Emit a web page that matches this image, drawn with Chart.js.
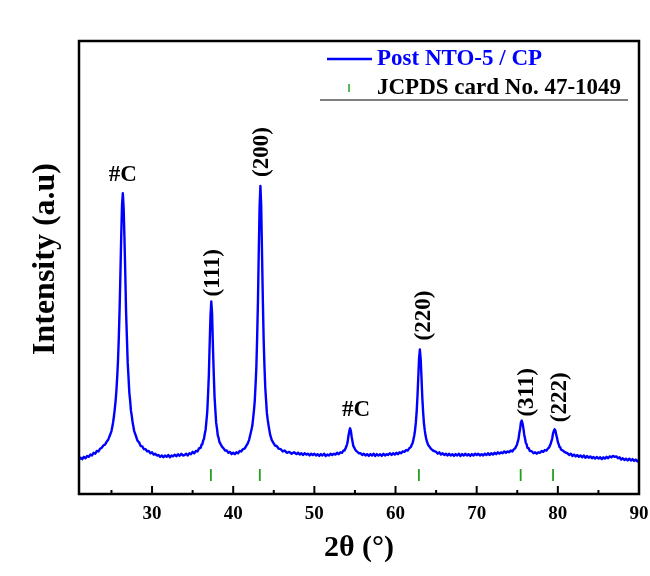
<!DOCTYPE html>
<html>
<head>
<meta charset="utf-8">
<title>XRD pattern</title>
<script src="https://cdn.jsdelivr.net/npm/chart.js@4.4.1/dist/chart.umd.min.js"></script>
<style>
    html, body { margin: 0; padding: 0; background: #fff; }
    canvas { display: block; }
</style>
</head>
<body>
<canvas id="xrd" width="650" height="576"></canvas>
<script>
var twoTheta = [
    21.0, 21.2, 21.4, 21.6, 21.8, 22.0, 22.2, 22.4, 22.6, 22.8,
    23.0, 23.2, 23.4, 23.6, 23.8, 24.0, 24.2, 24.4, 24.6, 24.8,
    25.0, 25.1, 25.2, 25.3, 25.4, 25.5, 25.6, 25.7, 25.8, 25.9,
    26.0, 26.1, 26.2, 26.3, 26.4, 26.5, 26.6, 26.7, 26.8, 26.9,
    27.0, 27.1, 27.2, 27.3, 27.4, 27.5, 27.6, 27.8, 28.0, 28.2,
    28.4, 28.6, 28.8, 29.0, 29.2, 29.4, 29.6, 29.8, 30.0, 30.2,
    30.4, 30.6, 30.8, 31.0, 31.2, 31.4, 31.6, 31.8, 32.0, 32.2,
    32.4, 32.6, 32.8, 33.0, 33.2, 33.4, 33.6, 33.8, 34.0, 34.2,
    34.4, 34.6, 34.8, 35.0, 35.2, 35.4, 35.6, 35.8, 36.0, 36.1,
    36.2, 36.3, 36.4, 36.5, 36.6, 36.7, 36.8, 36.9, 37.0, 37.1,
    37.2, 37.3, 37.4, 37.5, 37.6, 37.7, 37.8, 37.9, 38.0, 38.1,
    38.2, 38.3, 38.4, 38.6, 38.8, 39.0, 39.2, 39.4, 39.6, 39.8,
    40.0, 40.2, 40.4, 40.6, 40.8, 41.0, 41.2, 41.4, 41.6, 41.8,
    41.95, 42.15, 42.35, 42.45, 42.55, 42.65, 42.75, 42.85, 42.95, 43.05,
    43.15, 43.25, 43.35, 43.45, 43.55, 43.65, 43.75, 43.85, 43.95, 44.05,
    44.15, 44.25, 44.35, 44.55, 44.75, 44.95, 45.15, 45.35, 45.6, 45.85,
    46.1, 46.35, 46.6, 46.9, 47.2, 47.5, 47.8, 48.0, 48.2, 48.4,
    48.6, 48.8, 49.0, 49.2, 49.4, 49.6, 49.8, 50.0, 50.2, 50.4,
    50.6, 50.8, 51.0, 51.2, 51.4, 51.6, 51.8, 52.0, 52.2, 52.4,
    52.6, 52.8, 53.0, 53.2, 53.4, 53.6, 53.7, 53.8, 53.9, 54.0,
    54.1, 54.2, 54.3, 54.4, 54.5, 54.6, 54.7, 54.8, 54.9, 55.1,
    55.3, 55.5, 55.7, 55.9, 56.1, 56.3, 56.5, 56.7, 56.9, 57.1,
    57.3, 57.5, 57.7, 57.9, 58.1, 58.3, 58.5, 58.7, 58.9, 59.1,
    59.3, 59.5, 59.7, 59.9, 60.1, 60.3, 60.5, 60.7, 60.9, 61.1,
    61.3, 61.5, 61.7, 61.9, 62.0, 62.1, 62.2, 62.3, 62.4, 62.5,
    62.6, 62.7, 62.8, 62.9, 63.0, 63.1, 63.2, 63.3, 63.4, 63.5,
    63.6, 63.7, 63.8, 64.0, 64.2, 64.4, 64.7, 65.0, 65.2, 65.4,
    65.6, 65.8, 66.0, 66.2, 66.4, 66.6, 66.8, 67.0, 67.2, 67.4,
    67.6, 67.8, 68.0, 68.2, 68.4, 68.6, 68.8, 69.0, 69.2, 69.4,
    69.6, 69.8, 70.0, 70.2, 70.4, 70.6, 70.8, 71.0, 71.2, 71.4,
    71.6, 71.8, 72.0, 72.2, 72.4, 72.6, 72.8, 73.0, 73.2, 73.4,
    73.6, 73.8, 74.0, 74.2, 74.4, 74.55, 74.75, 74.85, 74.95, 75.05,
    75.15, 75.25, 75.35, 75.45, 75.55, 75.65, 75.75, 75.85, 75.95, 76.05,
    76.15, 76.25, 76.4, 76.55, 76.8, 77.0, 77.2, 77.4, 77.6, 77.8,
    78.0, 78.2, 78.4, 78.6, 78.8, 78.9, 79.0, 79.1, 79.2, 79.3,
    79.4, 79.5, 79.6, 79.7, 79.8, 79.9, 80.0, 80.1, 80.2, 80.3,
    80.4, 80.6, 80.8, 81.0, 81.2, 81.4, 81.6, 81.8, 82.0, 82.2,
    82.4, 82.6, 82.8, 83.0, 83.2, 83.4, 83.6, 83.8, 84.0, 84.2,
    84.4, 84.6, 84.8, 85.0, 85.2, 85.4, 85.6, 85.8, 86.0, 86.2,
    86.4, 86.6, 86.8, 87.0, 87.2, 87.4, 87.6, 87.8, 88.0, 88.2,
    88.4, 88.6, 88.8, 89.0, 89.2, 89.4, 89.6, 89.8, 90.0
];

var intensity = [
    7.6, 8.0, 7.7, 8.2, 7.9, 8.4, 8.2, 8.7, 8.5, 9.1,
    8.9, 9.5, 9.4, 10.0, 10.2, 10.7, 10.9, 11.5, 12.0, 12.9,
    13.9, 14.8, 15.8, 17.1, 18.6, 20.4, 22.6, 25.6, 29.2, 34.3,
    40.6, 48.4, 56.8, 63.7, 66.4, 63.2, 56.5, 48.9, 40.2, 34.6,
    29.0, 25.8, 22.4, 20.6, 18.4, 17.3, 15.9, 13.9, 12.9, 11.8,
    11.4, 10.6, 10.5, 9.9, 9.9, 9.4, 9.5, 9.0, 9.2, 8.7,
    8.9, 8.5, 8.6, 8.2, 8.5, 8.1, 8.5, 8.2, 8.6, 8.1,
    8.5, 8.3, 8.7, 8.3, 8.8, 8.4, 8.9, 8.5, 8.6, 8.9,
    8.5, 9.0, 8.8, 9.3, 9.0, 9.5, 9.4, 10.1, 10.2, 10.9,
    11.0, 11.8, 12.2, 13.3, 14.2, 16.1, 18.1, 21.9, 26.3, 33.1,
    39.3, 42.5, 39.7, 32.7, 26.7, 21.5, 18.5, 15.7, 14.5, 12.9,
    12.4, 11.5, 11.2, 10.5, 10.1, 9.6, 9.6, 9.1, 9.3, 8.8,
    9.1, 8.8, 9.2, 9.0, 9.5, 9.4, 9.9, 10.0, 10.6, 11.2,
    11.9, 13.4, 15.0, 16.6, 18.3, 20.4, 23.9, 27.9, 34.6, 42.6,
    53.6, 63.3, 68.0, 63.7, 53.2, 43.0, 34.2, 28.3, 23.5, 20.7,
    17.9, 16.4, 15.2, 13.1, 11.9, 11.3, 10.7, 10.6, 10.0, 9.9,
    9.4, 9.6, 9.1, 9.3, 8.9, 9.2, 8.8, 9.1, 8.7, 9.0,
    8.6, 9.0, 8.7, 8.9, 8.5, 8.9, 8.6, 8.9, 8.5, 8.8,
    8.4, 8.8, 8.5, 8.9, 8.4, 8.7, 8.5, 8.9, 8.6, 8.9,
    8.7, 9.1, 8.8, 9.2, 9.1, 9.6, 9.6, 9.9, 10.3, 10.8,
    11.5, 12.8, 13.8, 14.5, 13.9, 12.6, 11.6, 10.6, 10.3, 9.6,
    9.3, 9.0, 9.0, 8.6, 8.9, 8.5, 8.8, 8.4, 8.8, 8.5,
    8.9, 8.4, 8.8, 8.5, 8.8, 8.4, 8.9, 8.5, 8.8, 8.6,
    9.0, 8.6, 9.0, 8.7, 9.1, 8.8, 9.2, 9.0, 9.4, 9.3,
    9.7, 9.6, 10.1, 10.4, 10.9, 11.2, 12.0, 12.8, 14.0, 15.7,
    18.0, 21.4, 25.6, 29.9, 31.9, 29.8, 25.7, 21.3, 18.1, 15.6,
    14.1, 12.9, 12.0, 10.9, 10.4, 9.9, 9.5, 9.3, 8.9, 9.2,
    8.7, 9.0, 8.6, 8.9, 8.5, 8.9, 8.5, 8.8, 8.4, 8.8,
    8.5, 8.9, 8.4, 8.8, 8.5, 8.9, 8.5, 8.8, 8.4, 8.8,
    8.5, 8.9, 8.6, 8.9, 8.5, 8.8, 8.5, 8.9, 8.6, 9.0,
    8.6, 9.0, 8.7, 9.1, 8.8, 9.2, 8.9, 9.2, 9.0, 9.4,
    9.1, 9.4, 9.2, 9.6, 9.4, 9.8, 10.1, 10.5, 10.8, 11.5,
    12.1, 13.4, 14.4, 15.8, 16.2, 15.6, 14.6, 13.2, 12.3, 11.3,
    11.0, 10.2, 10.1, 9.5, 9.4, 9.0, 9.2, 8.9, 9.2, 9.1,
    9.5, 9.3, 9.7, 9.6, 10.1, 10.2, 10.6, 11.0, 11.6, 12.2,
    13.3, 13.9, 14.3, 14.0, 13.1, 12.4, 11.5, 11.0, 10.4, 10.3,
    9.8, 9.6, 9.3, 9.1, 9.0, 8.6, 8.9, 8.4, 8.7, 8.3,
    8.6, 8.2, 8.5, 8.1, 8.5, 8.0, 8.4, 8.0, 8.3, 7.9,
    8.2, 7.8, 8.2, 7.8, 8.1, 7.7, 8.1, 7.8, 8.2, 7.9,
    8.3, 8.1, 8.4, 8.2, 8.3, 7.9, 8.1, 7.6, 7.9, 7.5,
    7.8, 7.4, 7.8, 7.4, 7.7, 7.3, 7.6, 7.2, 7.5
];

// JCPDS 47-1049 reflections
var cardPositions = [37.25, 43.28, 62.88, 75.42, 79.41];
var cardMarkLevel = 4.2;

var peakLabels = ["#C", "(111)", "(200)", "#C", "(220)", "(311)", "(222)"];
var peakPositions = [26.4, 37.3, 43.35, 54.4, 63.0, 75.55, 79.6];

var majorTicks = [30, 40, 50, 60, 70, 80, 90];
var minorTicks = [25, 35, 45, 55, 65, 75, 85];
var legendLabels = ["Post NTO-5 / CP", "JCPDS card No. 47-1049"];

var serif = "'Liberation Serif', 'Times New Roman', serif";
var lineBlue = "#0000ff";
var cardGreen = "#22a022";

// label layout: vertical or not, x nudge, gap above the peak top
var labelVertical = [false, true, true, false, true, true, true];
var labelNudge = [0, 2, 2, 6, 4, 5, 5];
var labelGap = [12, 5, 9, 12, 9, 4, 7];

var decorations = {
    id: "decorations",
    afterDraw: function(chart) {
        var ctx = chart.ctx;
        var area = chart.chartArea;
        var xs = chart.scales.x;
        var ys = chart.scales.y;

        ctx.save();

        // inward ticks on the bottom axis
        ctx.strokeStyle = "#000";
        ctx.lineWidth = 2;
        majorTicks.forEach(function(v) {
            var px = xs.getPixelForValue(v);
            ctx.beginPath();
            ctx.moveTo(px, area.bottom);
            ctx.lineTo(px, area.bottom - 8);
            ctx.stroke();
        });
        minorTicks.forEach(function(v) {
            var px = xs.getPixelForValue(v);
            ctx.beginPath();
            ctx.moveTo(px, area.bottom);
            ctx.lineTo(px, area.bottom - 4);
            ctx.stroke();
        });

        ctx.lineWidth = 2.5;
        ctx.strokeRect(area.left, area.top, area.right - area.left, area.bottom - area.top);

        // peak assignments
        ctx.fillStyle = "#000";
        ctx.font = "bold 23px " + serif;
        peakLabels.forEach(function(text, i) {
            var idx = twoTheta.indexOf(peakPositions[i]);
            var px = xs.getPixelForValue(peakPositions[i]) + labelNudge[i];
            var py = ys.getPixelForValue(intensity[idx]) - labelGap[i];
            if (labelVertical[i]) {
                ctx.save();
                ctx.translate(px, py);
                ctx.rotate(-Math.PI / 2);
                ctx.textAlign = "left";
                ctx.textBaseline = "middle";
                ctx.fillText(text, 0, 0);
                ctx.restore();
            } else {
                ctx.textAlign = "center";
                ctx.textBaseline = "alphabetic";
                ctx.fillText(text, px, py);
            }
        });

        // y axis title
        ctx.save();
        ctx.translate(46, 259);
        ctx.rotate(-Math.PI / 2);
        ctx.textAlign = "center";
        ctx.textBaseline = "middle";
        ctx.font = "bold 32px " + serif;
        ctx.fillText("Intensity (a.u)", 0, 0);
        ctx.restore();

        // legend
        ctx.font = "bold 23px " + serif;
        ctx.textAlign = "left";
        ctx.textBaseline = "middle";
        ctx.strokeStyle = lineBlue;
        ctx.lineWidth = 2.5;
        ctx.beginPath();
        ctx.moveTo(327, 59);
        ctx.lineTo(372, 59);
        ctx.stroke();
        ctx.fillStyle = lineBlue;
        ctx.fillText(legendLabels[0], 377, 59);

        ctx.strokeStyle = cardGreen;
        ctx.lineWidth = 1.5;
        ctx.beginPath();
        ctx.moveTo(349, 84);
        ctx.lineTo(349, 92);
        ctx.stroke();
        ctx.fillStyle = "#000";
        ctx.fillText(legendLabels[1], 377, 88);

        ctx.strokeStyle = "#555";
        ctx.lineWidth = 1.5;
        ctx.beginPath();
        ctx.moveTo(320, 100);
        ctx.lineTo(628, 100);
        ctx.stroke();

        ctx.restore();
    }
};

var points = twoTheta.map(function(t, i) {
    return { x: t, y: intensity[i] };
});
var cardPoints = cardPositions.map(function(p) {
    return { x: p, y: cardMarkLevel };
});

var chart = new Chart(document.getElementById("xrd"), {
    type: "line",
    data: {
        datasets: [
            {
                label: legendLabels[0],
                data: points,
                borderColor: lineBlue,
                borderWidth: 2.4,
                borderJoinStyle: "round",
                pointRadius: 0,
                // a tiny tension keeps Chart.js off its per-pixel fast path
                tension: 0.0001
            },
            {
                label: legendLabels[1],
                data: cardPoints,
                showLine: false,
                pointStyle: "line",
                rotation: 90,
                pointRadius: 6,
                borderColor: cardGreen,
                borderWidth: 1.8
            }
        ]
    },
    options: {
        responsive: false,
        animation: false,
        devicePixelRatio: 1,
        layout: { padding: { top: 41, right: 11, left: 0, bottom: 0 } },
        plugins: {
            legend: { display: false },
            tooltip: { enabled: false }
        },
        scales: {
            x: {
                type: "linear",
                min: 21,
                max: 90,
                grid: { display: false, drawTicks: false },
                border: { display: false },
                ticks: {
                    color: "#000",
                    padding: 9,
                    font: { family: serif, size: 19, weight: "bold" }
                },
                afterBuildTicks: function(scale) {
                    scale.ticks = majorTicks.map(function(v) { return { value: v }; });
                },
                title: {
                    display: true,
                    text: "2θ (°)",
                    color: "#000",
                    padding: { top: 0, bottom: 10 },
                    font: { family: serif, size: 30, weight: "bold" }
                },
                afterFit: function(scale) {
                    scale.height = 82;
                    scale.paddingLeft = 0;
                    scale.paddingRight = 0;
                }
            },
            y: {
                type: "linear",
                min: 0,
                max: 100,
                grid: { display: false, drawTicks: false },
                border: { display: false },
                ticks: { display: false },
                afterFit: function(scale) {
                    scale.width = 79;
                }
            }
        }
    },
    plugins: [decorations]
});
</script>
</body>
</html>
